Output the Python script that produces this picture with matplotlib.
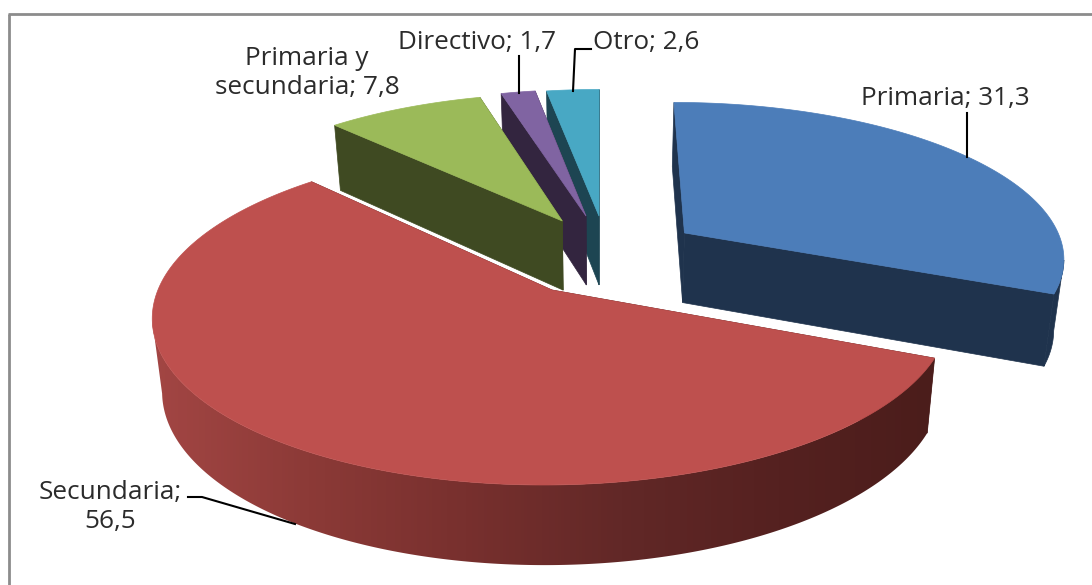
import numpy as np
import matplotlib
matplotlib.use("Agg")
import matplotlib.pyplot as plt
from matplotlib.patches import Polygon
from matplotlib.colors import LinearSegmentedColormap

# datos del grafico
categorias = ['Primaria', 'Secundaria', 'Primaria y\nsecundaria', 'Directivo', 'Otro']
valores = [31.3, 56.5, 7.8, 1.7, 2.6]

# estilo de cada porcion
colores_top = ['#4C7DB9', '#BE504E', '#9BBA59', '#8064A2', '#48A8C4']
colores_lado = ['#1F334D', '#4B1D1B', '#3F4A22', '#33253F', '#1D4552']
explode_x = [0.226, -0.122, -0.102, -0.038, -0.0027]
explode_y = [0.363, 0.0, 0.444, 0.478, 0.478]
orden = [4, 3, 2, 0, 1]

# parametros de la perspectiva (en pixeles)
VX = 600
YH = -815
H = 1105
K = 0.15
A = 394
DEPTH0 = 26
DEPTH1 = 46
ESCALA_BASE = 0.978
SILUETA = -0.17  # donde el borde deja de verse


grad_rojo = LinearSegmentedColormap.from_list(
    'rojo', ['#A34644', '#8C3A37', '#78302E', '#622827', '#552120', '#4B1D1B'])


def proyectar(X, Y, base=False):
    s = 1 / (1 + K * np.asarray(Y))
    if base:
        return VX + ESCALA_BASE * A * np.asarray(X) * s, YH + H * s + DEPTH0 + DEPTH1 * s
    return VX + A * np.asarray(X) * s, YH + H * s


fig = plt.figure(figsize=(10.92, 5.85), dpi=100)
ax = fig.add_axes([0, 0, 1, 1])
ax.axis('off')

# marco gris
ax.plot([9, 9], [585, 13.5], color='#8C8C8C', lw=2, solid_capstyle='butt')
ax.plot([8, 1092], [13.5, 13.5], color='#8C8C8C', lw=2, solid_capstyle='butt')

fracciones = np.array(valores) / sum(valores)
limites = np.concatenate([[0], np.cumsum(fracciones)]) * 2 * np.pi

for i in orden:
    t = np.linspace(limites[i], limites[i + 1], max(int(np.degrees(limites[i + 1] - limites[i]) * 2), 3))
    X = explode_x[i] + np.sin(t)
    Y = explode_y[i] + np.cos(t)
    ap_x, ap_y = proyectar(explode_x[i], explode_y[i])
    ab_x, ab_y = proyectar(explode_x[i], explode_y[i], base=True)
    tx, ty = proyectar(X, Y)
    bx, by = proyectar(X, Y, base=True)

    # caras de corte
    for j in (0, -1):
        ax.fill([ap_x, tx[j], bx[j], ab_x], [ap_y, ty[j], by[j], ab_y],
                color=colores_lado[i], lw=0.5, zorder=2)

    # borde exterior, solo la parte de delante
    frente = np.cos(t) <= SILUETA
    if frente.any():
        borde = np.column_stack([np.r_[tx[frente], bx[frente][::-1]], np.r_[ty[frente], by[frente][::-1]]])
        if categorias[i] == 'Secundaria':
            im = ax.imshow(np.linspace(0, 1, 256).reshape(1, -1), cmap=grad_rojo, aspect='auto',
                           extent=[150, 935, 600, 0], zorder=2)
            im.set_clip_path(Polygon(borde, transform=ax.transData))
        else:
            ax.fill(borde[:, 0], borde[:, 1], color=colores_lado[i], lw=0.5, zorder=2)

    # cara superior
    ax.fill(np.r_[ap_x, tx], np.r_[ap_y, ty], color=colores_top[i], lw=0.5, zorder=2)

ax.set_xlim(0, 1092)
ax.set_ylim(585, 0)

# lineas guia
guias = [
    ([967, 967], [113, 157]),
    ([188, 202, 295], [497, 497, 524]),
    ([519, 519], [56, 93]),
    ([591, 575, 573], [49, 49, 91]),
]
for gx, gy in guias:
    ax.plot(gx, gy, color='black', lw=1.5, zorder=5, solid_joinstyle='round')

# etiquetas
pos_etiquetas = [(945, 99), (110, 507), (307, 73), (477, 43), (646, 43)]
for i, (px, py) in enumerate(pos_etiquetas):
    nombre = categorias[i]
    valor = str(valores[i]).replace('.', ',')
    if nombre == 'Secundaria':
        texto = nombre + ';\n' + valor
    else:
        texto = nombre + '; ' + valor
    ax.text(px, py, texto, ha='center', va='center', fontsize=18.8, family='Open Sans',
            color='#2B2B2B', linespacing=1.25, zorder=6)

fig.savefig('out.png', dpi=100)
